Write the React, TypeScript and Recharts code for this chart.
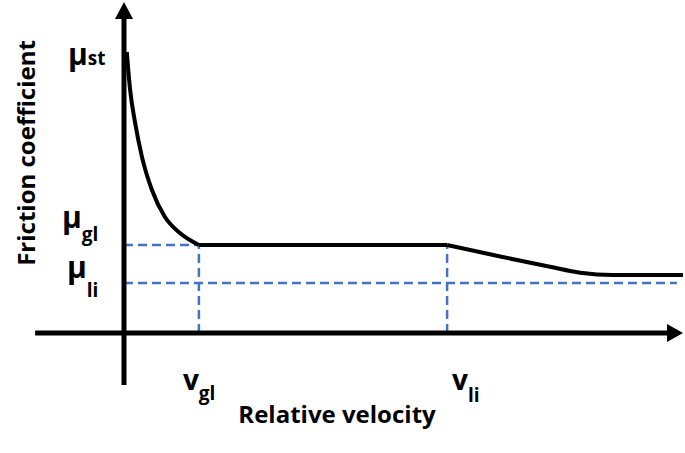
import {
  LineChart,
  Line,
  XAxis,
  YAxis,
  ReferenceLine,
  ReferenceDot,
  Label,
} from "recharts";

// schematic Stribeck-like curve, arbitrary units (0..100 on both axes)
const velocity = [0.5, 1.1, 2.0, 3.2, 5.0, 7.3, 10.0, 13.4, 57.8, 67.3, 76.2, 81.6, 87.5, 100];
const friction = [84.9, 73.4, 63.4, 53.3, 43.2, 35.1, 30.2, 26.6, 26.6, 23.1, 20.0, 18.2, 17.5, 17.5];

const muTicks = [84.9, 26.6, 15.1]; // mu_st, mu_gl, mu_li
const muSubs = ["st", "gl", "li"];
const vTicks = [13.4, 57.8]; // v_gl, v_li
const vSubs = ["gl", "li"];

const muGl = muTicks[1];
const muLi = muTicks[2];
const vGl = vTicks[0];
const vLi = vTicks[1];

// split the curve into the three regimes so the corners stay sharp
const data = velocity.map((v, i) => ({
  v,
  decay: v <= vGl ? friction[i] : null,
  plateau: v >= vGl && v <= vLi ? friction[i] : null,
  tail: v >= vLi ? friction[i] : null,
}));

const FONT = "'Open Sans', sans-serif";
const BLUE = "#4472C4";

// per-label nudges, the original diagram is hand placed
const muOffsets = [
  { dx: -48, dy: 13, sub: 0 },
  { dx: -54, dy: -17, sub: 13 },
  { dx: -49, dy: -5, sub: 19 },
];
const vOffsets = [
  { dx: -16, dy: 49, sub: 10 },
  { dx: 5, dy: 49, sub: 12 },
];

function MuTick(props: any) {
  const { x, y, index } = props;
  const o = muOffsets[index] || muOffsets[0];
  return (
    <text x={x + o.dx} y={y + o.dy} fontFamily={FONT} fontWeight={700} fill="#000">
      <tspan fontSize={30}>μ</tspan>
      <tspan fontSize={19} dy={o.sub}>{muSubs[index]}</tspan>
    </text>
  );
}

function VTick(props: any) {
  const { x, y, index } = props;
  const o = vOffsets[index] || vOffsets[0];
  return (
    <text x={x + o.dx} y={y + o.dy} fontFamily={FONT} fontWeight={700} fill="#000">
      <tspan fontSize={28}>v</tspan>
      <tspan fontSize={19} dy={o.sub}>{vSubs[index]}</tspan>
    </text>
  );
}

const upArrow = (p: any) => (
  <polygon points={`${p.cx},${p.cy} ${p.cx - 9},${p.cy + 17} ${p.cx + 9},${p.cy + 17}`} fill="#000" />
);
const rightArrow = (p: any) => (
  <polygon points={`${p.cx},${p.cy} ${p.cx - 16},${p.cy - 9} ${p.cx - 16},${p.cy + 9}`} fill="#000" />
);

export default function App() {
  return (
    <div style={{ width: 685, height: 453, background: "#fff" }}>
      <style>{"body{margin:0}"}</style>
      <LineChart
        width={685}
        height={453}
        data={data}
        margin={{ top: 2, right: 2, left: 0, bottom: 0 }}
      >
        <XAxis
          type="number"
          dataKey="v"
          domain={[0, 100]}
          ticks={vTicks}
          allowDataOverflow
          height={120}
          axisLine={false}
          tickLine={false}
          tick={<VTick />}
          interval={0}
        >
          <Label
            content={(p: any) => (
              <text
                x={p.viewBox.x + 213}
                y={p.viewBox.y + 90}
                textAnchor="middle"
                fontFamily={FONT}
                fontWeight={700}
                fontSize={24}
                fill="#000"
              >
                Relative velocity
              </text>
            )}
          />
        </XAxis>
        <YAxis
          type="number"
          domain={[0, 100]}
          ticks={muTicks}
          allowDataOverflow
          width={124}
          axisLine={false}
          tickLine={false}
          tick={<MuTick />}
          interval={0}
        >
          <Label
            content={() => (
              <text
                x={25}
                y={153}
                transform="rotate(-90 25 153)"
                textAnchor="middle"
                dominantBaseline="central"
                fontFamily={FONT}
                fontWeight={700}
                fontSize={24}
                fill="#000"
              >
                Friction coefficient
              </text>
            )}
          />
        </YAxis>

        {/* dashed guides */}
        <ReferenceLine segment={[{ x: 0, y: muGl }, { x: vGl, y: muGl }]} stroke={BLUE} strokeWidth={2.5} strokeDasharray="9 5" />
        <ReferenceLine segment={[{ x: 0, y: muLi }, { x: 98.9, y: muLi }]} stroke={BLUE} strokeWidth={2.5} strokeDasharray="9 5" />
        <ReferenceLine segment={[{ x: vGl, y: 0 }, { x: vGl, y: muGl }]} stroke={BLUE} strokeWidth={2.5} strokeDasharray="9 5" />
        <ReferenceLine segment={[{ x: vLi, y: 0 }, { x: vLi, y: muGl }]} stroke={BLUE} strokeWidth={2.5} strokeDasharray="9 5" />

        {/* axes with arrows */}
        <ReferenceLine segment={[{ x: 0, y: -15.7 }, { x: 0, y: 96 }]} stroke="#000" strokeWidth={5} ifOverflow="visible" />
        <ReferenceLine segment={[{ x: -15.9, y: 0 }, { x: 98, y: 0 }]} stroke="#000" strokeWidth={5} ifOverflow="visible" />
        <ReferenceDot x={0} y={100} shape={upArrow} ifOverflow="visible" />
        <ReferenceDot x={100} y={0} shape={rightArrow} ifOverflow="visible" />

        <Line type="monotone" dataKey="decay" stroke="#000" strokeWidth={4} dot={false} isAnimationActive={false} />
        <Line type="linear" dataKey="plateau" stroke="#000" strokeWidth={4} dot={false} isAnimationActive={false} />
        <Line type="monotone" dataKey="tail" stroke="#000" strokeWidth={4} dot={false} isAnimationActive={false} />
      </LineChart>
    </div>
  );
}
